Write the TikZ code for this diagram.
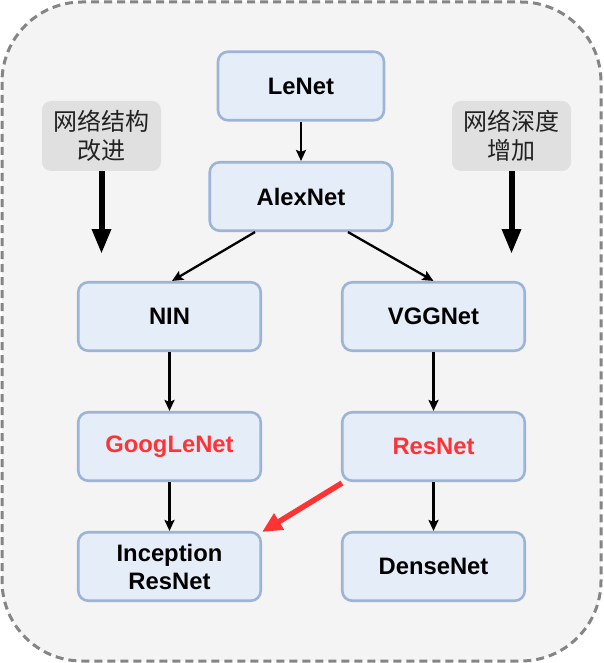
\documentclass[tikz,border=0pt]{standalone}
\usepackage{fontspec}
\setmainfont{Liberation Sans}
\newfontfamily\cjk{Noto Sans CJK SC}
\usetikzlibrary{arrows.meta}
\definecolor{boxfill}{HTML}{E5EDF8}
\definecolor{boxline}{HTML}{9DB4D9}
\definecolor{labfill}{HTML}{E0E0E0}
\definecolor{outerfill}{HTML}{F4F4F4}
\definecolor{outerline}{HTML}{858585}
\definecolor{redtxt}{HTML}{FF3333}
\definecolor{cjktxt}{HTML}{222222}
\tikzset{
  netbox/.style={rounded corners=10pt, draw=boxline, fill=boxfill, line width=2.6pt,
    minimum width=182.5pt, minimum height=68.5pt, inner sep=0pt, align=center,
    font=\fontsize{23.8}{27}\selectfont\bfseries},
  labbox/.style={rounded corners=9pt, fill=labfill, draw=none,
    minimum width=119pt, minimum height=70pt, inner sep=0pt, align=center,
    text=cjktxt, font=\cjk\fontsize{24}{29}\selectfont},
  thin/.style={line width=2.3pt, -{Stealth[length=11pt,width=10pt,inset=2pt]}},
  thick/.style={line width=6pt, -{Triangle[length=25pt,width=18pt]}},
  redarrow/.style={line width=5.5pt, draw=redtxt, -{Triangle[length=20pt,width=18pt]}}
}
\begin{document}
\begin{tikzpicture}[x=1pt,y=-1pt]
\useasboundingbox (0,0) rectangle (603,663);
\draw[rounded corners=80pt, fill=outerfill, draw=outerline, line width=3pt, dash pattern=on 8pt off 5pt]
  (2,2) rectangle (601,661);

\node[netbox, minimum width=166pt] (lenet) at (301,86) {LeNet};
\node[netbox] (alex) at (301,196.5) {AlexNet};
\node[netbox] (nin) at (169.5,316.5) {NIN};
\node[netbox] (vgg) at (433.5,316.5) {VGGNet};
\node[netbox, text=redtxt] (goog) at (169.5,446.5) {GoogLeNet};
\node[netbox, text=redtxt] (res) at (433.5,446.5) {ResNet};
\node[netbox, font=\fontsize{23.8}{28}\selectfont\bfseries] (incep) at (169.5,566.5) {Inception\\ResNet};
\node[netbox] (dense) at (433.5,566.5) {DenseNet};

\node[labbox] (labl) at (101.5,136) {网络结构\\改进};
\node[labbox] (labr) at (511.5,136) {网络深度\\增加};

\coordinate (tl) at (101.5,254);
\coordinate (tr) at (511.5,254);

\draw[thick] (labl.south) -- (tl);
\draw[thick] (labr.south) -- (tr);

\draw[thin] (lenet.south) -- (alex.north);
\draw[thin] ([xshift=-46pt]alex.south) -- ([xshift=2.5pt]nin.north);
\draw[thin] ([xshift=47pt]alex.south) -- (vgg.north);
\draw[thin] (nin.south) -- (goog.north);
\draw[thin] (vgg.south) -- (res.north);
\draw[thin] (goog.south) -- (incep.north);
\draw[thin] (res.south) -- (dense.north);
\draw[redarrow] ([shift={(1pt,-1pt)}]res.south west) -- ([shift={(0pt,-1pt)}]incep.north east);
\end{tikzpicture}
\end{document}
